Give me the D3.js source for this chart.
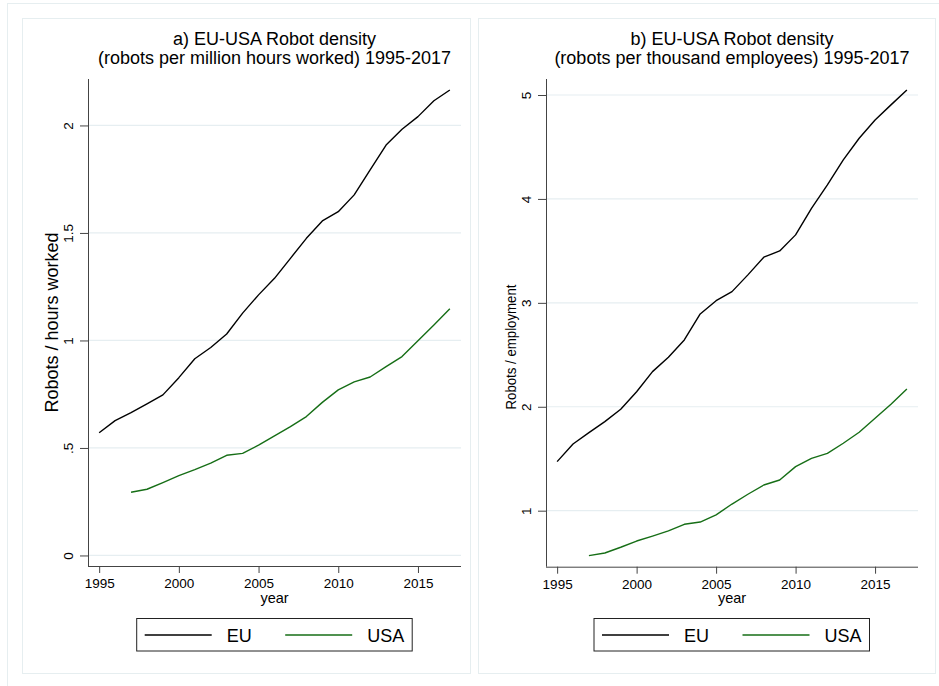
<!DOCTYPE html>
<html>
<head>
<meta charset="utf-8">
<script src="https://cdn.jsdelivr.net/npm/d3@7"></script>
<style>
  body { margin: 0; background: #fff; }
  svg { display: block; font-family: "Liberation Sans", Arial, sans-serif; }
</style>
</head>
<body>
<svg id="chart" width="939" height="686"></svg>
<script>
// years on the x axis
const years = [1995, 1996, 1997, 1998, 1999, 2000, 2001, 2002, 2003, 2004, 2005, 2006,
  2007, 2008, 2009, 2010, 2011, 2012, 2013, 2014, 2015, 2016, 2017];
const xTicks = [1995, 2000, 2005, 2010, 2015];

// a) robots per million hours worked
const euHours = [0.571, 0.627, 0.664, 0.705, 0.747, 0.827, 0.915, 0.967, 1.030, 1.127, 1.212, 1.289,
  1.382, 1.475, 1.556, 1.599, 1.677, 1.793, 1.909, 1.982, 2.041, 2.115, 2.165];
const usaHours = [null, null, 0.294, 0.308, 0.339, 0.371, 0.399, 0.429, 0.466, 0.475, 0.513, 0.556,
  0.599, 0.646, 0.712, 0.770, 0.807, 0.830, 0.878, 0.925, 0.999, 1.072, 1.147];
const hoursTicks = [0, 0.5, 1, 1.5, 2];
const hoursTickLabels = ['0', '.5', '1', '1.5', '2'];

// b) robots per thousand employees
const euEmp = [1.472, 1.642, 1.751, 1.857, 1.976, 2.145, 2.338, 2.476, 2.643, 2.893, 3.021, 3.108,
  3.269, 3.439, 3.500, 3.654, 3.910, 4.135, 4.375, 4.584, 4.760, 4.905, 5.049];
const usaEmp = [null, null, 0.567, 0.593, 0.648, 0.708, 0.756, 0.805, 0.869, 0.891, 0.960, 1.064,
  1.158, 1.247, 1.295, 1.424, 1.504, 1.552, 1.649, 1.755, 1.889, 2.024, 2.171];
const empTicks = [1, 2, 3, 4, 5];
const empTickLabels = ['1', '2', '3', '4', '5'];

const seriesNames = ['EU', 'USA'];
const seriesColors = ['#000000', '#166e16'];

const svg = d3.select('#chart');

// outer frame of the combined graph
svg.append('rect')
  .attr('x', 7.5).attr('y', 3.5).attr('width', 960).attr('height', 700)
  .attr('fill', '#fff').attr('stroke', '#e6eef0');

const panels = [
  {
    box: [22.5, 18.5, 448, 655],
    xRange: [88, 461], yRange: [566, 79],
    yDomain: [-0.049, 2.216],
    title: ['a) EU-USA Robot density', '(robots per million hours worked) 1995-2017'],
    yTitle: 'Robots / hours worked', yTitleY: 322.5, yTitleSize: 18, yTitleLen: null,
    series: [euHours, usaHours],
    yTicks: hoursTicks, yTickLabels: hoursTickLabels,
    legendX: 136.7
  },
  {
    box: [478.5, 18.5, 457, 655],
    xRange: [546, 918], yRange: [566.7, 79],
    yDomain: [0.461, 5.154],
    title: ['b) EU-USA Robot density', '(robots per thousand employees) 1995-2017'],
    // this title is drawn shorter in the source picture
    yTitle: 'Robots / employment', yTitleY: 347, yTitleSize: 15.5, yTitleLen: 125,
    series: [euEmp, usaEmp],
    yTicks: empTicks, yTickLabels: empTickLabels,
    legendX: 594
  }
];

panels.forEach(p => drawPanel(p));

function drawPanel(p) {
  const g = svg.append('g');

  g.append('rect')
    .attr('x', p.box[0]).attr('y', p.box[1])
    .attr('width', p.box[2]).attr('height', p.box[3])
    .attr('fill', '#fff').attr('stroke', '#e6eef0');

  const x = d3.scaleLinear().domain([1994.3, 2017.7]).range(p.xRange);
  const y = d3.scaleLinear().domain(p.yDomain).range(p.yRange);
  const x0 = p.xRange[0], x1 = p.xRange[1];
  const midX = (x0 + x1) / 2;

  // gridlines
  g.selectAll('.grid')
    .data(p.yTicks)
    .enter().append('line')
    .attr('class', 'grid')
    .attr('x1', x0).attr('x2', x1)
    .attr('y1', d => y(d)).attr('y2', d => y(d))
    .attr('stroke', '#e6eef1').attr('stroke-width', 1.2);

  // y axis
  const yAxis = d3.axisLeft(y)
    .tickValues(p.yTicks)
    .tickFormat((d, i) => p.yTickLabels[i])
    .tickSize(8).tickSizeOuter(0);
  const ya = g.append('g')
    .attr('transform', `translate(${x0},0)`)
    .call(yAxis);
  ya.select('.domain').attr('stroke', '#444').attr('d', `M0.5,${p.yRange[1]}V${p.yRange[0]}`);
  ya.selectAll('.tick line').attr('stroke', '#444');
  ya.selectAll('.tick text')
    .attr('font-size', 13.5).attr('fill', '#000')
    .attr('font-family', '"Liberation Sans", Arial, sans-serif')
    .attr('text-anchor', 'middle')
    .attr('x', null).attr('dy', null)
    .attr('transform', 'translate(-15,0) rotate(-90)');

  // x axis
  const xAxis = d3.axisBottom(x)
    .tickValues(xTicks)
    .tickFormat(d3.format('d'))
    .tickSize(7).tickSizeOuter(0);
  const xa = g.append('g')
    .attr('transform', `translate(0,${p.yRange[0]})`)
    .call(xAxis);
  xa.select('.domain').attr('stroke', '#444').attr('d', `M${x0},0.5H${x1}`);
  xa.selectAll('.tick line').attr('stroke', '#444');
  xa.selectAll('.tick text')
    .attr('font-size', 13.5).attr('fill', '#000')
    .attr('font-family', '"Liberation Sans", Arial, sans-serif')
    .attr('dy', null).attr('y', 22);

  // lines
  p.series.forEach((vals, i) => {
    const pts = years.map((yr, j) => ({ yr, v: vals[j] }));
    const line = d3.line()
      .defined(d => d.v !== null)
      .x(d => x(d.yr))
      .y(d => y(d.v));
    g.append('path')
      .datum(pts)
      .attr('d', line)
      .attr('fill', 'none')
      .attr('stroke', seriesColors[i])
      .attr('stroke-width', 1.4)
      .attr('stroke-linejoin', 'round');
  });

  // titles
  g.append('text')
    .attr('x', midX).attr('y', 45)
    .attr('text-anchor', 'middle').attr('font-size', 18)
    .text(p.title[0]);
  g.append('text')
    .attr('x', midX).attr('y', 63.5)
    .attr('text-anchor', 'middle').attr('font-size', 18)
    .text(p.title[1]);

  const yt = g.append('text')
    .attr('transform', `translate(${x0 - 30.5},${p.yTitleY}) rotate(-90)`)
    .attr('text-anchor', 'middle').attr('font-size', p.yTitleSize)
    .text(p.yTitle);
  if (p.yTitleLen) {
    yt.attr('textLength', p.yTitleLen).attr('lengthAdjust', 'spacingAndGlyphs');
  }

  g.append('text')
    .attr('x', midX).attr('y', 603)
    .attr('text-anchor', 'middle').attr('font-size', 14.5)
    .text('year');

  // legend
  const lg = g.append('g').attr('transform', `translate(${p.legendX},618.5)`);
  lg.append('rect')
    .attr('width', 275.5).attr('height', 32.5)
    .attr('fill', '#fff').attr('stroke', '#222');
  seriesNames.forEach((name, i) => {
    const off = i * 140.5;
    lg.append('line')
      .attr('x1', 8 + off).attr('x2', 75 + off)
      .attr('y1', 16.5).attr('y2', 16.5)
      .attr('stroke', seriesColors[i]).attr('stroke-width', 1.4);
    lg.append('text')
      .attr('x', 90 + off).attr('y', 23)
      .attr('font-size', 18)
      .text(name);
  });
}
</script>
</body>
</html>
